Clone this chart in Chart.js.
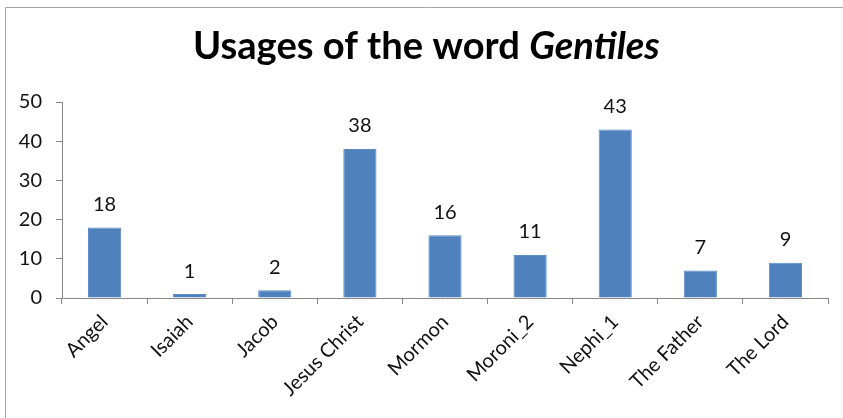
<!DOCTYPE html>
<html>
<head>
<meta charset="utf-8">
<script src="https://cdn.jsdelivr.net/npm/chart.js@4"></script>
<style>
  body { margin: 0; background: #fff; }
  #wrap { position: relative; width: 843px; height: 418px; }
</style>
</head>
<body>
<div id="wrap"><canvas id="chart" width="843" height="418"></canvas></div>
<script>
var categories = ['Angel', 'Isaiah', 'Jacob', 'Jesus Christ', 'Mormon', 'Moroni_2', 'Nephi_1', 'The Father', 'The Lord'];
var usages = [18, 1, 2, 38, 16, 11, 43, 7, 9];
var yTicks = [0, 10, 20, 30, 40, 50];

var FONT = 'Lato, "Open Sans", sans-serif';

// excel style frame + title with italic word
var framePlugin = {
    id: 'frame',
    beforeDraw: function (chart) {
        var ctx = chart.ctx;
        ctx.save();
        ctx.fillStyle = '#fff';
        ctx.fillRect(0, 0, chart.width, chart.height);
        ctx.strokeStyle = '#a6a6a6';
        ctx.lineWidth = 1;
        ctx.beginPath();
        ctx.moveTo(5.5, chart.height);
        ctx.lineTo(5.5, 7.5);
        ctx.lineTo(chart.width, 7.5);
        ctx.stroke();
        ctx.restore();
    },
    afterDraw: function (chart) {
        var ctx = chart.ctx;
        ctx.save();
        var size = 31;
        var a = 'Usages of the word ', b = 'Gentiles';
        ctx.font = 'bold ' + size + 'px ' + FONT;
        var wa = ctx.measureText(a).width;
        ctx.font = 'italic bold ' + size + 'px ' + FONT;
        var wb = ctx.measureText(b).width;
        // scale to the width seen in the picture
        var k = 467 / (wa + wb);
        size = size * k;
        ctx.font = 'bold ' + size + 'px ' + FONT;
        wa = ctx.measureText(a).width;
        ctx.font = 'italic bold ' + size + 'px ' + FONT;
        wb = ctx.measureText(b).width;
        var x0 = 193;
        ctx.fillStyle = '#000';
        ctx.textBaseline = 'alphabetic';
        ctx.textAlign = 'left';
        ctx.font = 'bold ' + size + 'px ' + FONT;
        ctx.fillText(a, x0, 59);
        ctx.font = 'italic bold ' + size + 'px ' + FONT;
        ctx.fillText(b, x0 + wa, 59);

        // value labels over bars
        var meta = chart.getDatasetMeta(0);
        ctx.font = '20px ' + FONT;
        ctx.fillStyle = '#111';
        ctx.textAlign = 'center';
        ctx.textBaseline = 'middle';
        meta.data.forEach(function (bar, i) {
            ctx.fillText(String(usages[i]), bar.x, bar.y - 23);
        });
        ctx.restore();
    }
};

var config = {
    type: 'bar',
    data: {
        labels: categories,
        datasets: [{
            data: usages,
            backgroundColor: '#4f81bd',
            borderColor: '#5b8cc6',
            borderWidth: 1,
            barPercentage: 0.39,
            categoryPercentage: 1
        }]
    },
    options: {
        responsive: false,
        animation: false,
        layout: {
            padding: { left: 0, top: 102, right: 15, bottom: 0 }
        },
        plugins: {
            legend: { display: false },
            title: { display: false },
            tooltip: { enabled: false }
        },
        scales: {
            x: {
                offset: true,
                grid: {
                    display: true,
                    offset: true,
                    drawOnChartArea: false,
                    drawTicks: true,
                    tickLength: 6,
                    color: '#868686'
                },
                border: { display: true, color: '#868686', width: 1 },
                ticks: {
                    color: '#111',
                    font: { family: FONT, size: 20 },
                    minRotation: 45,
                    maxRotation: 45,
                    padding: 6
                },
                afterFit: function (scale) { scale.height = 120; }
            },
            y: {
                min: 0,
                max: 50,
                afterBuildTicks: function (scale) {
                    scale.ticks = yTicks.map(function (v) { return { value: v }; });
                },
                grid: {
                    display: true,
                    drawOnChartArea: false,
                    drawTicks: true,
                    tickLength: 6,
                    color: '#868686'
                },
                border: { display: true, color: '#868686', width: 1 },
                ticks: {
                    color: '#111',
                    font: { family: FONT, size: 20 },
                    padding: 14
                },
                afterFit: function (scale) { scale.width = 62; }
            }
        }
    },
    plugins: [framePlugin]
};

window.onload = function () {
    var ctx = document.getElementById('chart').getContext('2d');
    window.myChart = new Chart(ctx, config);
};
</script>
</body>
</html>
